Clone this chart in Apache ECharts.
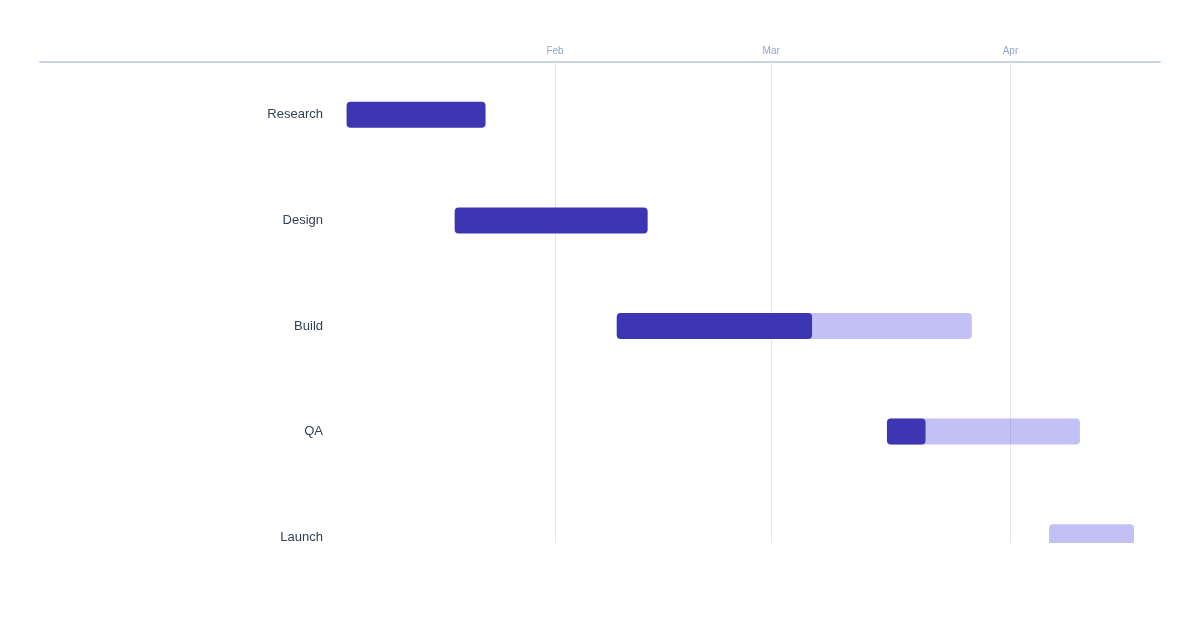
<!DOCTYPE html>
<html>
<head>
<meta charset="utf-8">
<script src="https://cdn.jsdelivr.net/npm/echarts@6/dist/echarts.min.js"></script>
<style>
  html, body { margin: 0; padding: 0; background: #ffffff; }
  #chart { width: 1200px; height: 630px; }
</style>
</head>
<body>
<div id="chart"></div>
<script>
// ---- Data ----
const tasks = ['Research', 'Design', 'Build', 'QA', 'Launch'];
const starts = ['2025-01-05', '2025-01-19', '2025-02-09', '2025-03-16', '2025-04-06'];
const ends = ['2025-01-23', '2025-02-13', '2025-03-27', '2025-04-10', '2025-04-17'];
const progress = [1, 1, 0.55, 0.2, 0];
const monthNames = ['Jan', 'Feb', 'Mar', 'Apr', 'May', 'Jun', 'Jul', 'Aug', 'Sep', 'Oct', 'Nov', 'Dec'];
const axisMin = '2025-01-03 12:00';
const axisMax = '2025-04-20 12:00';

function toMs(s) {
  const p = s.split(/[- :]/).map(Number);
  return new Date(p[0], p[1] - 1, p[2], p[3] || 0, p[4] || 0).getTime();
}

const seriesData = tasks.map((t, i) => [i, toMs(starts[i]), toMs(ends[i]), progress[i]]);

const chart = echarts.init(document.getElementById('chart'), null, { renderer: 'canvas' });

const FONT = 'Liberation Sans, Arial, sans-serif';
const DAY = 24 * 3600 * 1000;

chart.setOption({
  backgroundColor: '#ffffff',
  animation: false,
  grid: [
    { left: 335, right: 39, top: 62, bottom: 87 },
    { left: 40, right: 40, top: 62, bottom: 87 }
  ],
  xAxis: [
    {
      type: 'time',
      gridIndex: 0,
      position: 'top',
      min: toMs(axisMin),
      max: toMs(axisMax),
      minInterval: 28 * DAY,
      axisLine: { show: false },
      axisTick: { show: false },
      splitLine: { show: true, showMinLine: false, showMaxLine: false, lineStyle: { color: '#e5e7eb', width: 1 } },
      axisLabel: {
        color: '#95a5c8',
        fontSize: 10,
        fontFamily: FONT,
        margin: 6,
        showMinLabel: false,
        showMaxLabel: false,
        formatter: function (v) { return monthNames[new Date(v).getMonth()]; }
      }
    },
    {
      type: 'value',
      gridIndex: 1,
      position: 'top',
      min: 0,
      max: 1,
      axisLine: { show: true, onZero: false, lineStyle: { color: '#cbd5e1', width: 2 } },
      axisTick: { show: false },
      axisLabel: { show: false },
      splitLine: { show: false }
    }
  ],
  yAxis: [
    {
      type: 'value',
      gridIndex: 0,
      inverse: true,
      min: -0.5,
      max: 4.055,
      axisLine: { show: false },
      axisTick: { show: false },
      splitLine: { show: false },
      axisLabel: {
        customValues: [0, 1, 2, 3, 4],
        color: '#334155',
        fontSize: 13,
        fontFamily: FONT,
        margin: 12,
        padding: [2, 0, 0, 0],
        formatter: function (v) { return tasks[Math.round(v)] || ''; }
      }
    },
    {
      type: 'value',
      gridIndex: 1,
      show: false,
      min: 0,
      max: 1
    }
  ],
  series: [
    {
      type: 'custom',
      xAxisIndex: 0,
      yAxisIndex: 0,
      clip: true,
      encode: { x: [1, 2], y: 0 },
      data: seriesData,
      renderItem: function (params, api) {
        const idx = api.value(0);
        const s = api.coord([api.value(1), idx]);
        const e = api.coord([api.value(2), idx]);
        const p = api.value(3);
        const h = 26;
        const w = e[0] - s[0];
        const children = [];
        if (p < 1) {
          children.push({
            type: 'rect',
            shape: { x: s[0], y: s[1] - h / 2, width: w, height: h, r: 4 },
            style: { fill: '#4f46e5', opacity: 0.34 }
          });
        }
        if (p > 0) {
          children.push({
            type: 'rect',
            shape: { x: s[0], y: s[1] - h / 2, width: w * p, height: h, r: 4 },
            style: { fill: '#3d36b3' }
          });
        }
        return { type: 'group', children: children };
      }
    }
  ]
});
</script>
</body>
</html>
